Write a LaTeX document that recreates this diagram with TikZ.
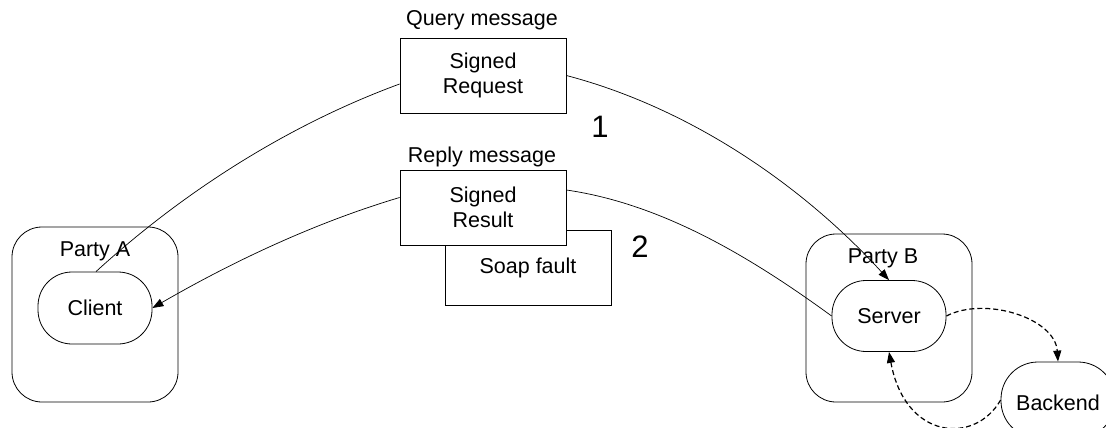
\documentclass[tikz,border=0pt]{standalone}
\usepackage{fontspec}
\setmainfont{Liberation Sans}
\usetikzlibrary{arrows.meta}
\begin{document}
\begin{tikzpicture}[x=1pt,y=-1pt,
  every node/.style={font=\fontsize{21.5}{24.5}\selectfont},
  party/.style={draw,line width=0.8pt,rounded corners=30pt,minimum width=166pt,minimum height=#1,inner sep=0pt},
  pill/.style={draw,line width=0.8pt,rounded corners=34pt,minimum width=114pt,minimum height=#1,inner sep=0pt},
  msg/.style={draw,line width=0.8pt,fill=white,minimum width=166pt,minimum height=75pt,inner sep=0pt,align=center},
  lbl/.style={inner sep=0pt},
  big/.style={inner sep=0pt,font=\fontsize{31}{34}\selectfont},
  conn/.style={line width=0.7pt},
  tip/.style={-{Triangle[length=11pt,width=8pt]}},
  dashconn/.style={line width=1.2pt,dash pattern=on 5pt off 3pt}
]
\useasboundingbox (0,0) rectangle (1106,428);
\begin{scope}
\clip (0,0) rectangle (1106,428);
% parties
\node[party=175pt] (pa) at (95,314.5) {};
\node[lbl] (pal) at (95,251) {Party A};
\node[pill=72pt] (client) at (95,308) {Client};
\node[party=168pt] (pb) at (889,318) {};
\node[lbl] (pbl) at (883,258) {Party B};
\node[pill=71pt] (server) at (889,316) {Server};
\node[draw,line width=0.8pt,rounded corners=37pt,minimum width=114pt,minimum height=76pt,inner sep=0pt] (backend) at (1058,400) {};
\node[lbl] (bel) at (1058,403) {Backend};
% messages
\node[lbl] (ql) at (482,20) {Query message};
\node[msg] (query) at (483,75.5) {Signed\\Request};
\node[big] (one) at (600,127) {1};
\node[lbl] (rl) at (482,157) {Reply message};
\node[msg] (fault) at (528,268) {Soap fault};
\node[msg] (reply) at (483,207.5) {Signed\\Result};
\node[big] (two) at (640,247) {2};
% connectors
\draw[conn] ([xshift=1pt]client.north) .. controls (183,192) and (288,125) .. ([yshift=-8.5pt]query.west);
\draw[conn,tip] (query.east) .. controls (690,108) and (802,185) .. (server.north);
\draw[conn] (server.west) .. controls (752,258) and (663,204) .. ([yshift=17.5pt]reply.east);
\draw[conn,tip] ([yshift=10pt]reply.west) .. controls (314,223) and (232,262) .. (client.east);
\draw[dashconn,tip] (server.east) .. controls (985,296) and (1055,318) .. (backend.north);
\draw[dashconn,tip] (backend.west) .. controls (975,445) and (905,440) .. (server.south);
\end{scope}
\end{tikzpicture}
\end{document}
